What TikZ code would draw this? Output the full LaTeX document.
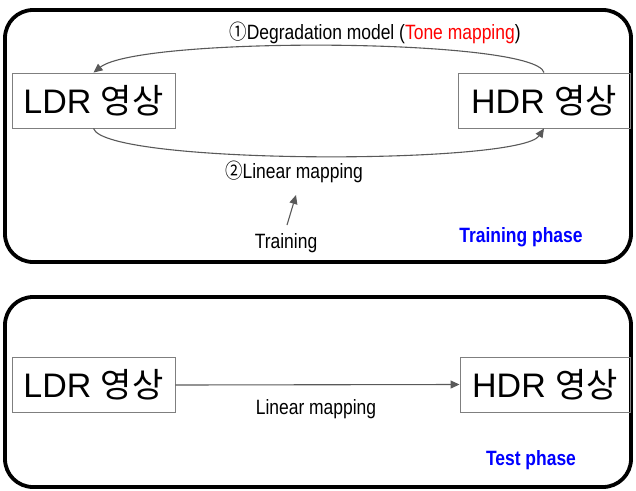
\documentclass[tikz,border=0pt]{standalone}
\usepackage{fontspec}
\setmainfont{Liberation Sans}
\newfontfamily\kr{Noto Sans CJK KR}
\usetikzlibrary{arrows.meta}
\definecolor{conngray}{HTML}{595959}
\definecolor{boxgray}{HTML}{7F7F7F}
\definecolor{phaseblue}{HTML}{0000FF}
\newcommand{\tallt}[1]{\scalebox{0.97}[1.15]{#1}}
\begin{document}
\begin{tikzpicture}[x=1pt,y=-1pt,
  phase/.style={draw=black, line width=3.8pt, rounded corners=28pt},
  imgbox/.style={draw=boxgray, line width=0.9pt, minimum height=55pt, inner sep=0pt, font=\fontsize{34}{36}\selectfont},
  conn/.style={draw=conngray, line width=1.1pt, -{Triangle[length=9pt,width=8pt]}},
  lbl/.style={inner sep=0pt, font=\fontsize{18}{20}\selectfont},
  phaselbl/.style={inner sep=0pt, text=phaseblue, font=\fontsize{18}{20}\selectfont\bfseries}]
\useasboundingbox (0,0) rectangle (636,490);
% training phase
\draw[phase] (5,10) rectangle (631,262);
\node[imgbox, minimum width=163pt] (ldr1) at (93.5,100.5) {LDR {\kr 영상}};
\node[imgbox, minimum width=172pt] (hdr1) at (544,100.5) {HDR {\kr 영상}};
\draw[conn] (hdr1.north) .. controls (535,38) and (140,36) .. (ldr1.north);
\draw[conn] (ldr1.south) .. controls (105,165) and (520,165) .. (hdr1.south);
\node[lbl] (deg) at (375,33) {\tallt{{\kr ①}Degradation model (\textcolor{red}{Tone mapping})}};
\node[lbl] (lin1) at (294,172) {\tallt{{\kr ②}Linear mapping}};
\node[lbl] (train) at (286,243) {\tallt{Training}};
\coordinate (tstart) at (287,225);
\coordinate (tend) at (296,195);
\draw[conn] (tstart) -- (tend);
\node[phaselbl] (tp) at (521,237) {\tallt{Training phase}};
% test phase
\draw[phase] (5,297) rectangle (631,487);
\node[imgbox, minimum width=163pt] (ldr2) at (93.5,385) {LDR {\kr 영상}};
\node[imgbox, minimum width=170pt] (hdr2) at (545,384.5) {HDR {\kr 영상}};
\draw[conn] (ldr2.east) -- (hdr2.west);
\node[lbl] (lin2) at (316,409) {\tallt{Linear mapping}};
\node[phaselbl] (testp) at (531,460) {\tallt{Test phase}};
\end{tikzpicture}
\end{document}
